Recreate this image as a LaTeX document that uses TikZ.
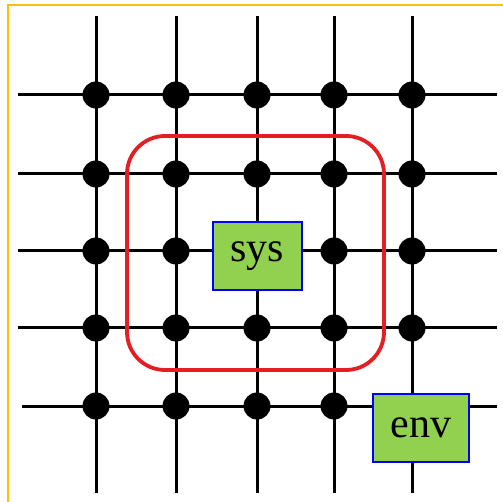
\documentclass[tikz,border=0pt]{standalone}
\usepackage{fontspec}
\setmainfont{Liberation Serif}
\definecolor{boxgreen}{HTML}{92D050}
\definecolor{frameyellow}{HTML}{FFC000}
\definecolor{loopred}{HTML}{E31E24}
\begin{document}
\begin{tikzpicture}[x=1pt,y=-1pt,
  gridline/.style={line width=3pt,black},
  dotnode/.style={circle,fill=black,inner sep=0pt,minimum size=27pt},
  labelbox/.style={draw=blue,line width=1.5pt,fill=boxgreen,inner sep=0pt,
    minimum height=68pt,font=\fontsize{42}{42}\selectfont},
  loop/.style={draw=loopred,line width=3.8pt,rounded corners=38pt}]
\useasboundingbox (0,0) rectangle (503,502);
\fill[white] (0,0) rectangle (503,502);
% frame
\coordinate (fbl) at (8,510);
\coordinate (ftl) at (8,5);
\coordinate (ftr) at (510,5);
\draw[frameyellow,line width=2.5pt] (fbl) -- (ftl) -- (ftr);
% grid coordinates
\foreach \i/\x in {1/96,2/176,3/257,4/334,5/412}{
  \coordinate (vT\i) at (\x,16);
  \coordinate (vB\i) at (\x,493);
}
\foreach \j/\y/\l in {1/95/18,2/174/18,3/251/18,4/328/18,5/406/22}{
  \coordinate (hL\j) at (\l,\y);
  \coordinate (hR\j) at (497,\y);
}
\foreach \i in {1,...,5}{
  \draw[gridline] (vT\i) -- (vB\i);
  \draw[gridline] (hL\i) -- (hR\i);
}
% dots
\foreach \i/\x in {1/96,2/176,3/257,4/334,5/412}{
  \foreach \j/\y in {1/95,2/174,3/251,4/328,5/406}{
    \ifnum\i\j=33\relax\else\ifnum\i\j=55\relax\else
      \node[dotnode] (d\i\j) at (\x,\y) {};
    \fi\fi
  }
}
% system loop
\coordinate (loopA) at (127,136);
\coordinate (loopB) at (384,370);
\draw[loop] (loopA) rectangle (loopB);
% labels
\node[labelbox,minimum width=89pt] (sys) at (257.5,256) {sys};
\node[labelbox,minimum width=96pt] (env) at (421,428) {env};
\end{tikzpicture}
\end{document}
